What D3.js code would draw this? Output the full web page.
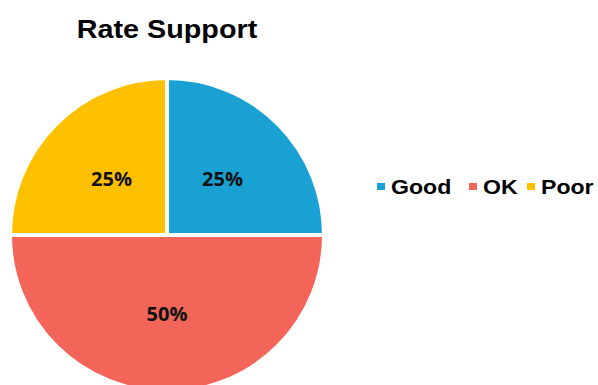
<!DOCTYPE html>
<html lang="en">
<head>
<meta charset="UTF-8">
<title>Rate Support</title>
<script src="https://cdn.jsdelivr.net/npm/d3@7"></script>
<style>
  body { margin: 0; background: #fff; }
</style>
</head>
<body>
<script>
  const categories = ['Good', 'OK', 'Poor']
  const values = [25, 50, 25]
  const colors = ['#19A1D4', '#F26558', '#FFC000']

  const width = 598
  const height = 385
  const cx = 167
  const cy = 235
  const radius = 157

  const svg = d3.select('body').append('svg')
    .attr('width', width)
    .attr('height', height)

  // the original is a bit stretched sideways, so the text gets a small x-scale
  svg.append('text')
    .attr('transform', `translate(${cx},38) scale(1.15,1)`)
    .attr('text-anchor', 'middle')
    .attr('font-family', 'Liberation Sans, Arial, sans-serif')
    .attr('font-weight', 'bold')
    .attr('font-size', '25px')
    .text('Rate Support')

  const data = categories.map((c, i) => ({ name: c, value: values[i], color: colors[i] }))

  const pie = d3.pie().sort(null).value(d => d.value)
  const arc = d3.arc().innerRadius(0).outerRadius(radius)
  const labelArc = d3.arc().innerRadius(radius / 2).outerRadius(radius / 2)

  const g = svg.append('g').attr('transform', `translate(${cx},${cy})`)

  const slices = g.selectAll('g.slice')
    .data(pie(data))
    .enter()
    .append('g')
    .attr('class', 'slice')

  slices.append('path')
    .attr('d', arc)
    .attr('fill', d => d.data.color)
    .attr('stroke', '#fff')
    .attr('stroke-width', 4)

  slices.append('text')
    .attr('transform', d => `translate(${labelArc.centroid(d)})`)
    .attr('dy', '0.35em')
    .attr('text-anchor', 'middle')
    .attr('font-family', 'Open Sans, sans-serif')
    .attr('font-weight', 'bold')
    .attr('font-size', '20px')
    .attr('fill', '#111')
    .text(d => d.data.value + '%')

  // legend
  const legendX = [377, 469, 527]
  const legend = svg.append('g')
  data.forEach((d, i) => {
    legend.append('rect')
      .attr('x', legendX[i])
      .attr('y', 183)
      .attr('width', 8)
      .attr('height', 7)
      .attr('fill', d.color)
    legend.append('text')
      .attr('transform', `translate(${legendX[i] + 14},194) scale(1.1,1)`)
      .attr('font-family', 'Liberation Sans, Arial, sans-serif')
      .attr('font-weight', 'bold')
      .attr('font-size', '21px')
      .text(d.name)
  })
</script>
</body>
</html>
